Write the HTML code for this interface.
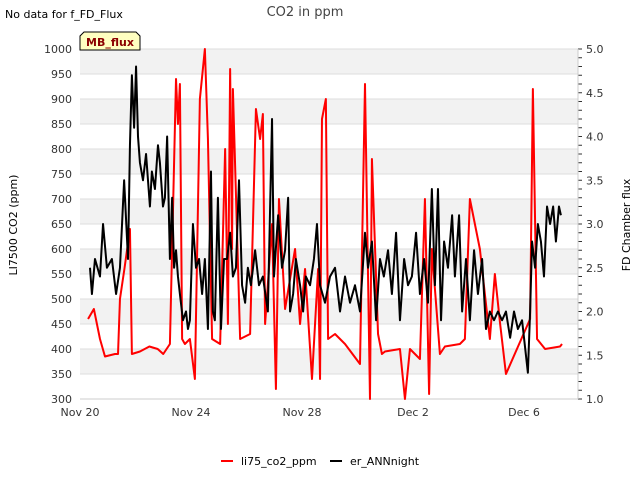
<!DOCTYPE html>
<html><head><meta charset="utf-8"><style>
body{margin:0;background:#fff;font-family:"DejaVu Sans","Liberation Sans",sans-serif}
svg text{font-family:"DejaVu Sans","Liberation Sans",sans-serif}
</style></head><body>
<svg id="chart" width="640" height="480">
<text x="5" y="18" font-size="11" fill="#000">No data for f_FD_Flux</text>
<text x="305" y="16" font-size="13" fill="#444" text-anchor="middle">CO2 in ppm</text>
<g id="bands"></g><g id="grid"></g><g id="axes"></g>
<g id="series"></g>
<g>
<path d="M80,50 L80,36 L84,32 L136,32 L140,36 L140,50 Z" fill="#ffffc0" stroke="#000" stroke-width="1"/>
<text x="110" y="46" font-size="11" font-weight="bold" fill="#8b0000" text-anchor="middle">MB_flux</text></g>
<text transform="translate(17,225) rotate(-90)" font-size="11" text-anchor="middle" fill="#000">LI7500 CO2 (ppm)</text>
<text transform="translate(630,225) rotate(-90)" font-size="11" text-anchor="middle" fill="#000">FD Chamber flux</text>
<g>
<g><line x1="221" y1="461" x2="233" y2="461" stroke="#f00" stroke-width="2"/><text x="241" y="465" font-size="11">li75_co2_ppm</text></g>
<g><line x1="330" y1="461" x2="342" y2="461" stroke="#000" stroke-width="2"/><text x="350" y="465" font-size="11">er_ANNnight</text></g>
</g>
</svg>
<script>
const xTickLabels=["Nov 20","Nov 24","Nov 28","Dec 2","Dec 6"];
const xTickDays=[0,4,8,12,16];
const leftTicks=[300,350,400,450,500,550,600,650,700,750,800,850,900,950,1000];
const rightTicks=[1.0,1.5,2.0,2.5,3.0,3.5,4.0,4.5,5.0];
const redDays=[0.29,0.5,0.72,0.9,1.26,1.37,1.44,1.6,1.8,1.87,2.16,2.5,2.8,3.0,3.24,3.46,3.53,3.6,3.68,3.78,3.96,4.14,4.32,4.5,4.61,4.76,5.05,5.23,5.33,5.41,5.48,5.51,5.77,6.13,6.34,6.49,6.59,6.67,6.92,7.06,7.17,7.39,7.75,7.93,8.11,8.36,8.58,8.65,8.72,8.86,8.94,9.19,9.55,10.09,10.27,10.45,10.52,10.74,10.88,10.99,11.53,11.71,11.89,12.25,12.43,12.58,12.68,12.97,13.15,13.69,13.87,14.05,14.41,14.77,14.95,15.14,15.35,16.22,16.32,16.47,16.76,17.3,17.37];
const redVals=[460,480,420,385,390,390,500,560,640,390,395,405,400,390,410,940,850,930,420,410,420,340,900,1000,820,420,410,800,450,960,600,920,420,430,880,820,870,450,650,320,700,480,600,450,560,340,560,340,860,900,420,430,410,370,930,300,780,430,390,395,400,300,400,380,700,310,600,390,405,410,420,700,600,420,550,450,350,460,920,420,400,405,410];
const blackDays=[0.36,0.43,0.54,0.72,0.83,0.97,1.15,1.3,1.44,1.59,1.73,1.8,1.87,1.95,2.02,2.09,2.16,2.27,2.38,2.52,2.59,2.7,2.81,2.88,2.99,3.06,3.14,3.24,3.32,3.39,3.46,3.53,3.6,3.71,3.82,3.89,3.96,4.07,4.18,4.29,4.4,4.5,4.61,4.72,4.79,4.86,4.97,5.08,5.19,5.3,5.41,5.51,5.62,5.73,5.84,5.95,6.05,6.16,6.31,6.45,6.59,6.77,6.92,6.99,7.14,7.28,7.39,7.5,7.57,7.68,7.78,7.93,8.04,8.14,8.29,8.43,8.54,8.65,8.83,9.01,9.19,9.37,9.55,9.73,9.91,10.09,10.27,10.38,10.52,10.67,10.81,10.95,11.1,11.24,11.39,11.53,11.68,11.82,11.96,12.11,12.25,12.4,12.54,12.68,12.79,12.9,13.01,13.12,13.26,13.41,13.51,13.66,13.77,13.91,14.05,14.2,14.34,14.49,14.63,14.77,14.92,15.06,15.21,15.35,15.5,15.64,15.78,15.93,16.07,16.14,16.22,16.29,16.4,16.5,16.61,16.72,16.83,16.94,17.05,17.15,17.26,17.33];
const blackVals=[2.5,2.2,2.6,2.4,3.0,2.5,2.6,2.2,2.5,3.5,2.6,3.9,4.7,4.1,4.8,4.0,3.7,3.5,3.8,3.2,3.6,3.4,3.9,3.7,3.2,3.3,4.0,2.6,3.3,2.5,2.7,2.4,2.2,1.9,2.0,1.8,1.9,3.0,2.5,2.6,2.2,2.6,1.8,3.6,2.0,1.9,3.3,1.8,2.6,2.6,2.9,2.4,2.5,3.5,2.3,2.1,2.5,2.3,2.7,2.3,2.4,2.0,4.2,2.4,3.1,2.5,2.7,3.3,2.0,2.2,2.6,2.3,2.0,2.4,2.3,2.6,3.0,2.3,2.1,2.4,2.5,2.0,2.4,2.1,2.3,2.0,2.9,2.5,2.8,1.9,2.6,2.4,2.7,2.2,2.9,1.9,2.6,2.3,2.4,2.9,2.2,2.6,2.1,3.4,2.3,3.4,1.9,2.8,2.5,3.1,2.4,3.1,2.0,2.6,1.9,2.7,2.2,2.6,1.8,2.0,1.9,2.0,1.9,2.0,1.7,2.0,1.8,1.9,1.5,1.3,2.0,2.8,2.5,3.0,2.8,2.4,3.2,3.0,3.2,2.8,3.2,3.1];
const NS="http://www.w3.org/2000/svg";
const X0=80,X1=578,Y0=49,Y1=399;
const xs=d=>X0+d*27.75;
const yL=v=>Y1-(v-300)/700*(Y1-Y0);
const yR=v=>Y1-(v-1)/4*(Y1-Y0);
function mk(tag,attrs,parent){const e=document.createElementNS(NS,tag);for(const k in attrs)e.setAttribute(k,attrs[k]);document.getElementById(parent).appendChild(e);return e;}
for(let i=0;i<leftTicks.length-1;i++){
  if(i%2===1){const b=mk('rect',{x:X0,y:yL(leftTicks[i+1]),width:X1-X0,height:yL(leftTicks[i])-yL(leftTicks[i+1]),fill:'#f2f2f2'},'bands');
  
  }
}
leftTicks.forEach(v=>{
  const g=mk('line',{x1:X0,x2:X1,y1:yL(v),y2:yL(v),stroke:'#ddd','stroke-width':1},'grid');
  
  
  const t=mk('text',{x:X0-8,y:yL(v)+4,'font-size':11,fill:'#333','text-anchor':'end'},'axes');t.textContent=v;
  
  
});
for(let v=1.0;v<=5.001;v+=0.1){const y=yR(v);mk('line',{x1:X1,x2:X1+4,y1:y,y2:y,stroke:'#333'},'axes');}
rightTicks.forEach(v=>{
  const t=mk('text',{x:X1+8,y:yR(v)+4,'font-size':11,fill:'#333'},'axes');t.textContent=v.toFixed(1);
  
  
});
xTickDays.forEach((d,i)=>{
  const t=mk('text',{x:xs(d),y:Y1+17,'font-size':11,fill:'#333','text-anchor':'middle'},'axes');t.textContent=xTickLabels[i];
  
  
});
mk('line',{x1:X0,x2:X1,y1:Y1,y2:Y1,stroke:'#ccc'},'axes');
mk('line',{x1:X1,x2:X1,y1:Y0,y2:Y1,stroke:'#ccc'},'axes');
const rp=mk('polyline',{points:redDays.map((d,i)=>xs(d)+','+yL(redVals[i])).join(' '),fill:'none',stroke:'#f00','stroke-width':2,'stroke-linejoin':'round'},'series');


const bp=mk('polyline',{points:blackDays.map((d,i)=>xs(d)+','+yR(blackVals[i])).join(' '),fill:'none',stroke:'#000','stroke-width':2,'stroke-linejoin':'round'},'series');


</script>
</body></html>
